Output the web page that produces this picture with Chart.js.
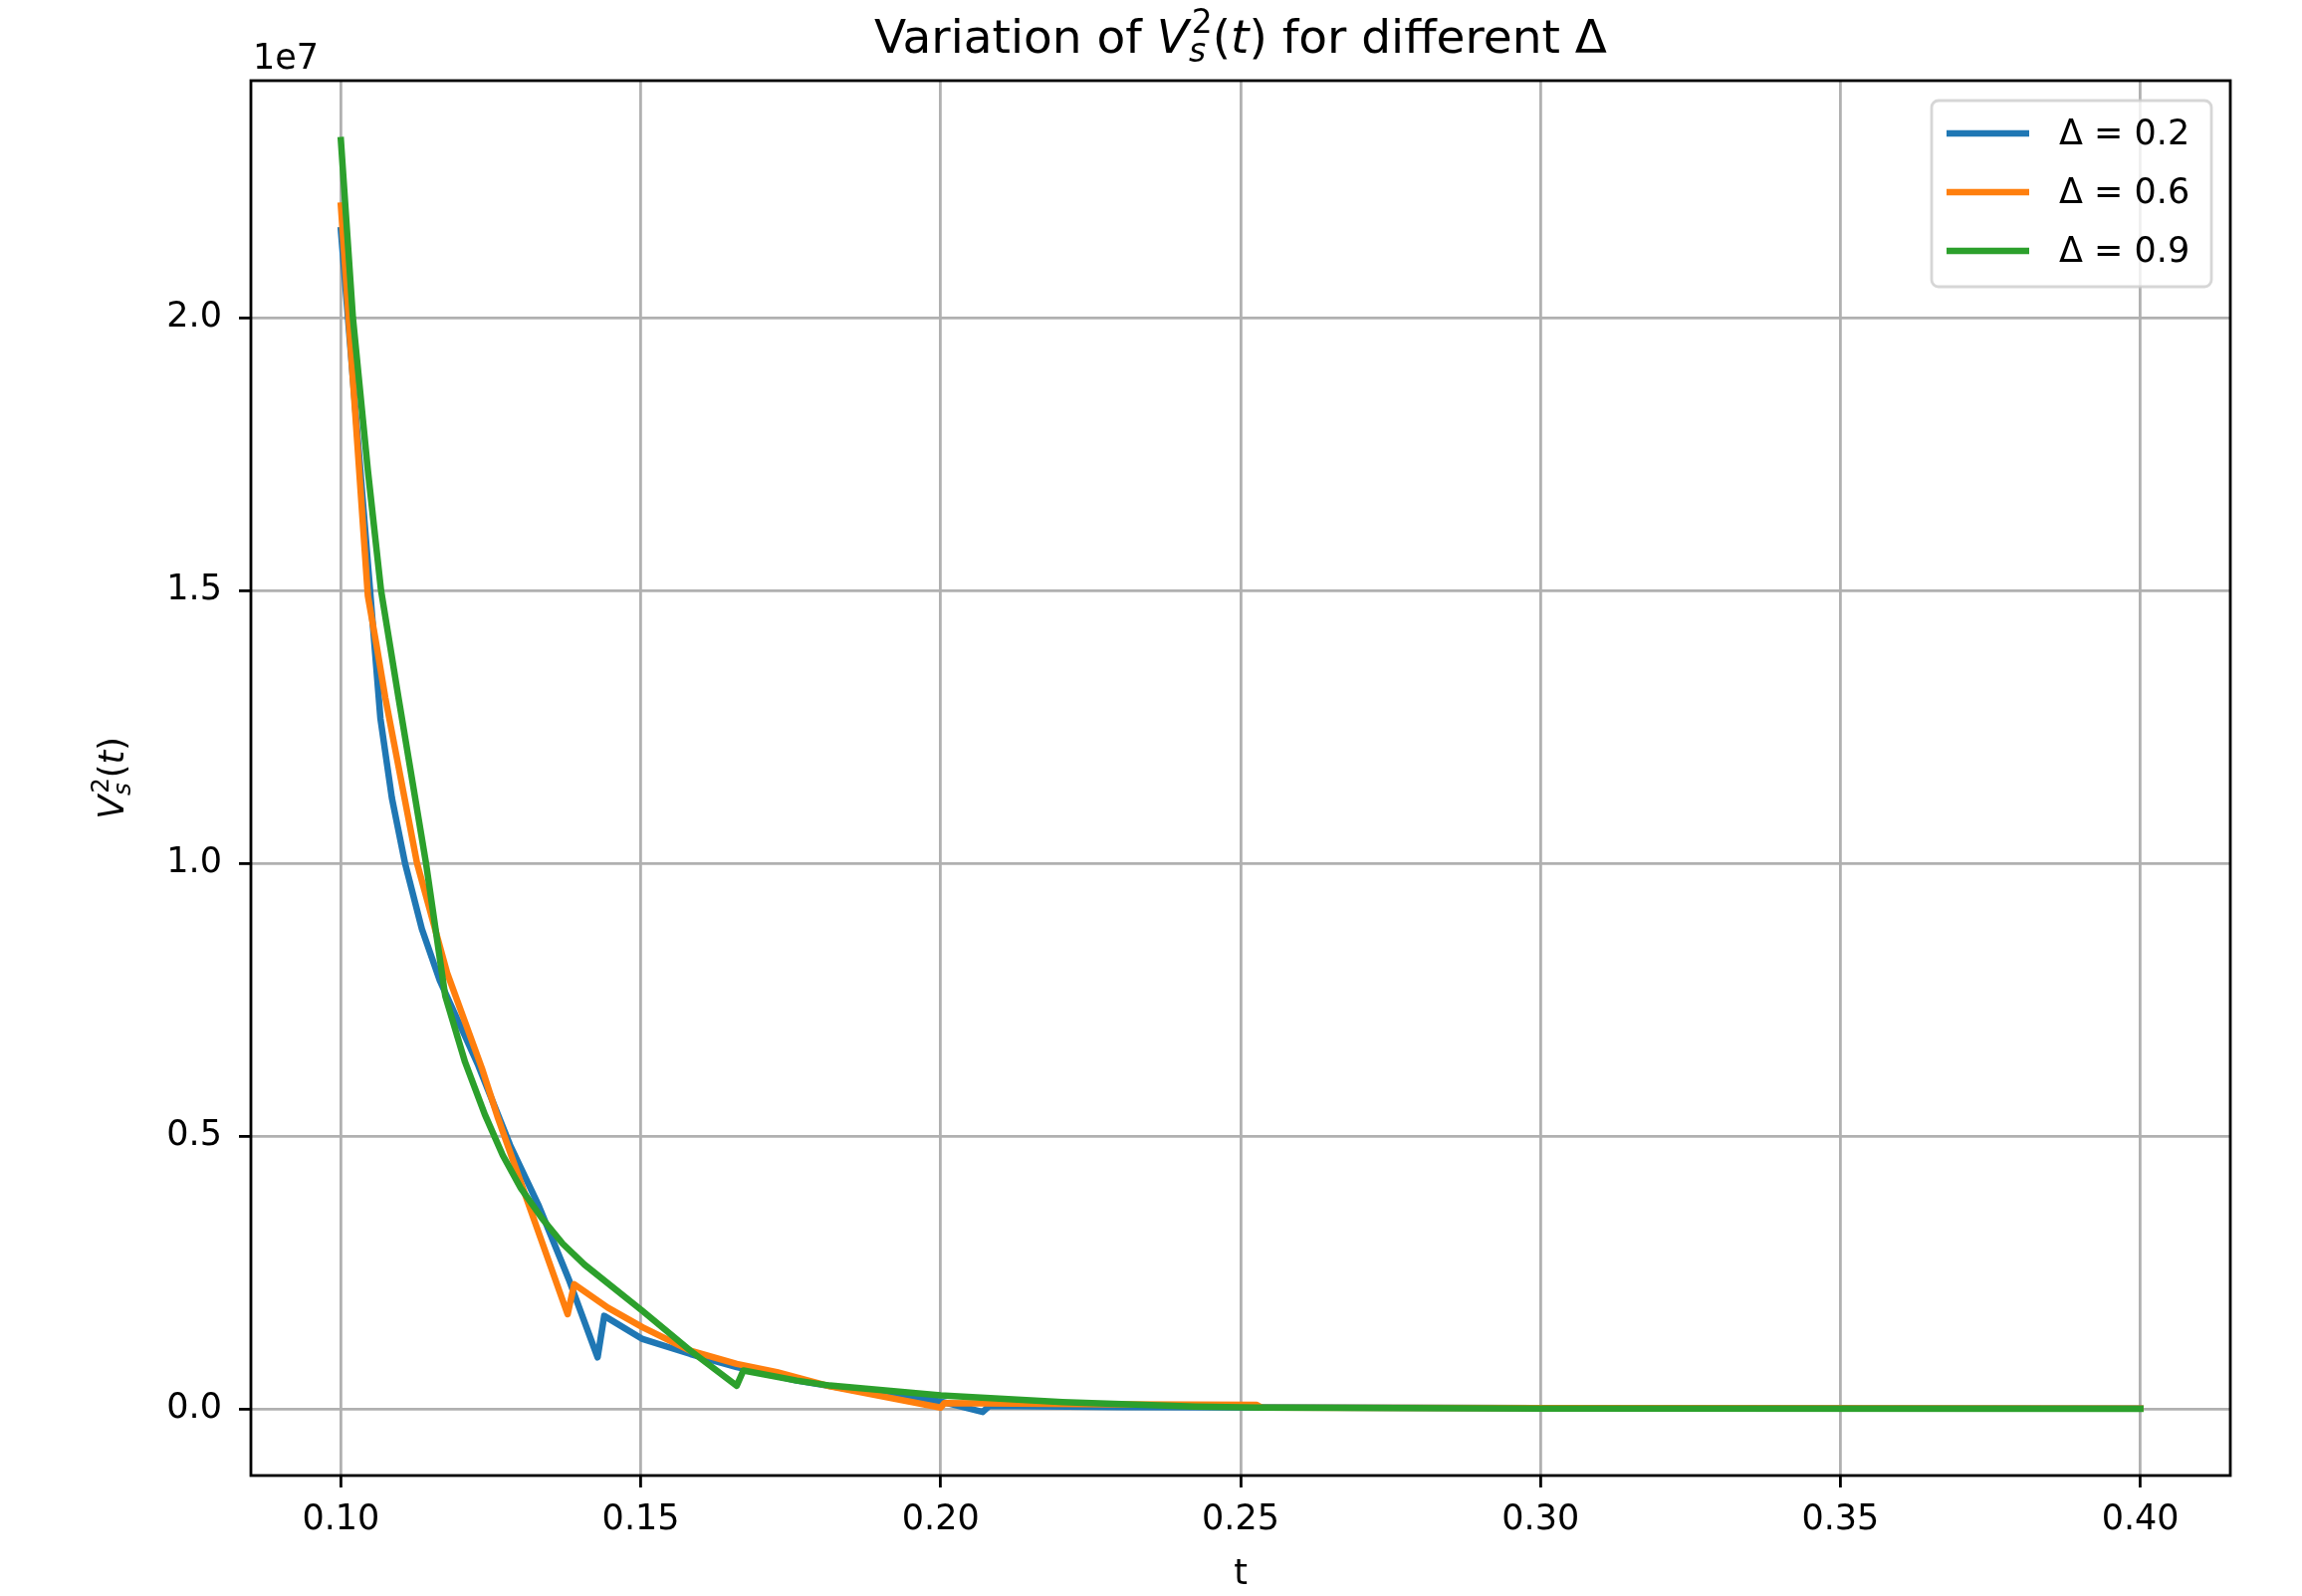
<!DOCTYPE html>
<html>
<head>
<meta charset="utf-8">
<script src="https://cdn.jsdelivr.net/npm/chart.js@4.4.1/dist/chart.umd.min.js"></script>
<style>
  html, body { margin: 0; padding: 0; background: #fff; }
</style>
</head>
<body>
<canvas id="c" width="2312" height="1603"></canvas>
<script>
// V_s^2(t), in units of 1e7 (the axis shows "1e7" as offset)
var t02 = [0.1000, 0.1066, 0.1085, 0.1107, 0.1135, 0.1165, 0.1229, 0.1282, 0.1329, 0.1381, 0.1428, 0.1439,
           0.1503, 0.1583, 0.1660, 0.1760, 0.1850, 0.2000, 0.2070, 0.2081, 0.2300, 0.3000, 0.4000];
var v02 = [2.160, 1.265, 1.120, 1.000, 0.880, 0.785, 0.630, 0.484, 0.375, 0.235, 0.095, 0.171,
           0.1285, 0.101, 0.077, 0.0525, 0.036, 0.014, -0.005, 0.006, 0.004, 0.002, 0.001];

var t06 = [0.1000, 0.1045, 0.1060, 0.1074, 0.1127, 0.1177, 0.1235, 0.1262, 0.1378, 0.1389, 0.1445, 0.1503,
           0.1583, 0.1660, 0.1727, 0.1815, 0.2000, 0.2006, 0.2300, 0.2527, 0.2535, 0.3000, 0.4000];
var v06 = [2.205, 1.490, 1.396, 1.304, 1.000, 0.800, 0.625, 0.533, 0.174, 0.229, 0.186, 0.150,
           0.107, 0.083, 0.068, 0.042, 0.003, 0.011, 0.009, 0.008, 0.003, 0.002, 0.001];

var t09 = [0.1000, 0.1020, 0.1045, 0.1067, 0.1096, 0.1142, 0.1174, 0.1207, 0.1240, 0.1270, 0.1300, 0.1335,
           0.1370, 0.1406, 0.1503, 0.1583, 0.1660, 0.1671, 0.1760, 0.1815, 0.2000, 0.2203, 0.2424, 0.2530,
           0.3000, 0.4000];
var v09 = [2.325, 2.000, 1.720, 1.500, 1.304, 1.000, 0.757, 0.636, 0.540, 0.465, 0.405, 0.350,
           0.303, 0.265, 0.180, 0.107, 0.043, 0.071, 0.0525, 0.0434, 0.0252, 0.0131, 0.0050, 0.0030,
           0.0010, 0.0005];

var seriesLabels = ['\u0394 = 0.2', '\u0394 = 0.6', '\u0394 = 0.9'];
var seriesColors = ['#1f77b4', '#ff7f0e', '#2ca02c'];
var xTicks = [0.10, 0.15, 0.20, 0.25, 0.30, 0.35, 0.40];
var yTicks = [0.0, 0.5, 1.0, 1.5, 2.0];

var FAM = '"DejaVu Sans"';
function fnt(px, italic) { return (italic ? 'italic ' : '') + px + 'px ' + FAM; }

function points(ts, vs) {
	return ts.map(function (t, i) { return { x: t, y: vs[i] }; });
}

// V_s^2(t) written the way mathtext does it
var vsPieces = [{ t: 'V', i: true }, { sup: '2', sub: 's' }, { t: '(' }, { t: 't', i: true }, { t: ')' }];

function mathWidth(ctx, pieces, px) {
	var w = 0;
	pieces.forEach(function (p) {
		if (p.sup !== undefined) {
			ctx.font = fnt(px * 0.7, false);
			var a = ctx.measureText(p.sup).width;
			ctx.font = fnt(px * 0.7, true);
			var b = ctx.measureText(p.sub).width;
			w += Math.max(a, b) + px * 0.06;
		} else {
			ctx.font = fnt(px, p.i);
			w += ctx.measureText(p.t).width;
		}
	});
	return w;
}

function drawMath(ctx, pieces, x, y, px) {
	ctx.textBaseline = 'alphabetic';
	ctx.textAlign = 'left';
	pieces.forEach(function (p) {
		if (p.sup !== undefined) {
			ctx.font = fnt(px * 0.7, false);
			var a = ctx.measureText(p.sup).width;
			ctx.fillText(p.sup, x + px * 0.06, y - px * 0.42);
			ctx.font = fnt(px * 0.7, true);
			var b = ctx.measureText(p.sub).width;
			ctx.fillText(p.sub, x, y + px * 0.2);
			x += Math.max(a, b) + px * 0.06;
		} else {
			ctx.font = fnt(px, p.i);
			ctx.fillText(p.t, x, y);
			x += ctx.measureText(p.t).width;
		}
	});
}

var decor = {
	id: 'decor',
	afterDatasetsDraw: function (chart) {
		var ctx = chart.ctx, ca = chart.chartArea;
		ctx.save();
		// spines
		ctx.strokeStyle = '#000';
		ctx.lineWidth = 2.8;
		ctx.strokeRect(ca.left, ca.top, ca.right - ca.left, ca.bottom - ca.top);

		// legend box
		var bx = 1940, by = 101, bw = 281, bh = 187, r = 7;
		ctx.beginPath();
		ctx.moveTo(bx + r, by);
		ctx.arcTo(bx + bw, by, bx + bw, by + bh, r);
		ctx.arcTo(bx + bw, by + bh, bx, by + bh, r);
		ctx.arcTo(bx, by + bh, bx, by, r);
		ctx.arcTo(bx, by, bx + bw, by, r);
		ctx.closePath();
		ctx.fillStyle = 'rgba(255,255,255,0.8)';
		ctx.fill();
		ctx.strokeStyle = 'rgba(204,204,204,0.8)';
		ctx.lineWidth = 2.8;
		ctx.stroke();

		chart.data.datasets.forEach(function (ds, i) {
			var ry = 134 + i * 59;
			ctx.beginPath();
			ctx.moveTo(1955, ry);
			ctx.lineTo(2038, ry);
			ctx.strokeStyle = ds.borderColor;
			ctx.lineWidth = 6.5;
			ctx.lineCap = 'butt';
			ctx.stroke();
			ctx.fillStyle = '#000';
			ctx.font = fnt(35, false);
			ctx.textAlign = 'left';
			ctx.textBaseline = 'middle';
			ctx.fillText(ds.label, 2068, ry + 2);
		});
		ctx.restore();
	},
	afterDraw: function (chart) {
		var ctx = chart.ctx, ca = chart.chartArea;
		ctx.save();
		ctx.fillStyle = '#000';

		// title
		var title = [{ t: 'Variation of ' }].concat(vsPieces, [{ t: ' for different \u0394' }]);
		var tw = mathWidth(ctx, title, 47);
		drawMath(ctx, title, (ca.left + ca.right) / 2 - tw / 2, 53, 47);

		// y label, rotated
		var yw = mathWidth(ctx, vsPieces, 35);
		ctx.translate(124, (ca.top + ca.bottom) / 2);
		ctx.rotate(-Math.PI / 2);
		drawMath(ctx, vsPieces, -yw / 2, 0, 35);
		ctx.setTransform(1, 0, 0, 1, 0, 0);

		// offset text
		ctx.font = fnt(35, false);
		ctx.textAlign = 'left';
		ctx.textBaseline = 'alphabetic';
		ctx.fillText('1e7', ca.left + 2, 69);
		ctx.restore();
	}
};

var tickFont = { family: 'DejaVu Sans', size: 35 };
var gridOpts = { color: '#b0b0b0', lineWidth: 2.8, tickColor: '#000', tickLength: 12, tickWidth: 2.8 };

new Chart(document.getElementById('c'), {
	type: 'line',
	data: {
		datasets: [
			// lower order is painted last, so green ends up on top as in the original
			{ label: seriesLabels[0], data: points(t02, v02), borderColor: seriesColors[0], order: 2 },
			{ label: seriesLabels[1], data: points(t06, v06), borderColor: seriesColors[1], order: 1 },
			{ label: seriesLabels[2], data: points(t09, v09), borderColor: seriesColors[2], order: 0 }
		]
	},
	options: {
		responsive: false,
		animation: false,
		layout: { padding: { left: 0, right: 72, top: 81, bottom: 0 } },
		elements: {
			point: { radius: 0 },
			line: { borderWidth: 6.5, tension: 0, fill: false, borderJoinStyle: 'round', borderCapStyle: 'square' }
		},
		plugins: { legend: { display: false }, tooltip: { enabled: false } },
		scales: {
			x: {
				type: 'linear',
				min: 0.085,
				max: 0.415,
				afterBuildTicks: function (s) { s.ticks = xTicks.map(function (v) { return { value: v }; }); },
				afterFit: function (s) { s.height = 121; },
				grid: gridOpts,
				border: { display: false },
				ticks: {
					font: tickFont, color: '#000', padding: 12, maxRotation: 0, autoSkip: false,
					callback: function (v) { return v.toFixed(2); }
				},
				title: { display: true, text: 't', font: tickFont, color: '#000', padding: { top: 0, bottom: 0 } }
			},
			y: {
				type: 'linear',
				min: -0.1215,
				max: 2.434,
				afterBuildTicks: function (s) { s.ticks = yTicks.map(function (v) { return { value: v }; }); },
				afterFit: function (s) { s.width = 252; },
				grid: gridOpts,
				border: { display: false },
				ticks: {
					font: tickFont, color: '#000', padding: 17,
					callback: function (v) { return v.toFixed(1); }
				}
			}
		}
	},
	plugins: [decor]
});
</script>
</body>
</html>
